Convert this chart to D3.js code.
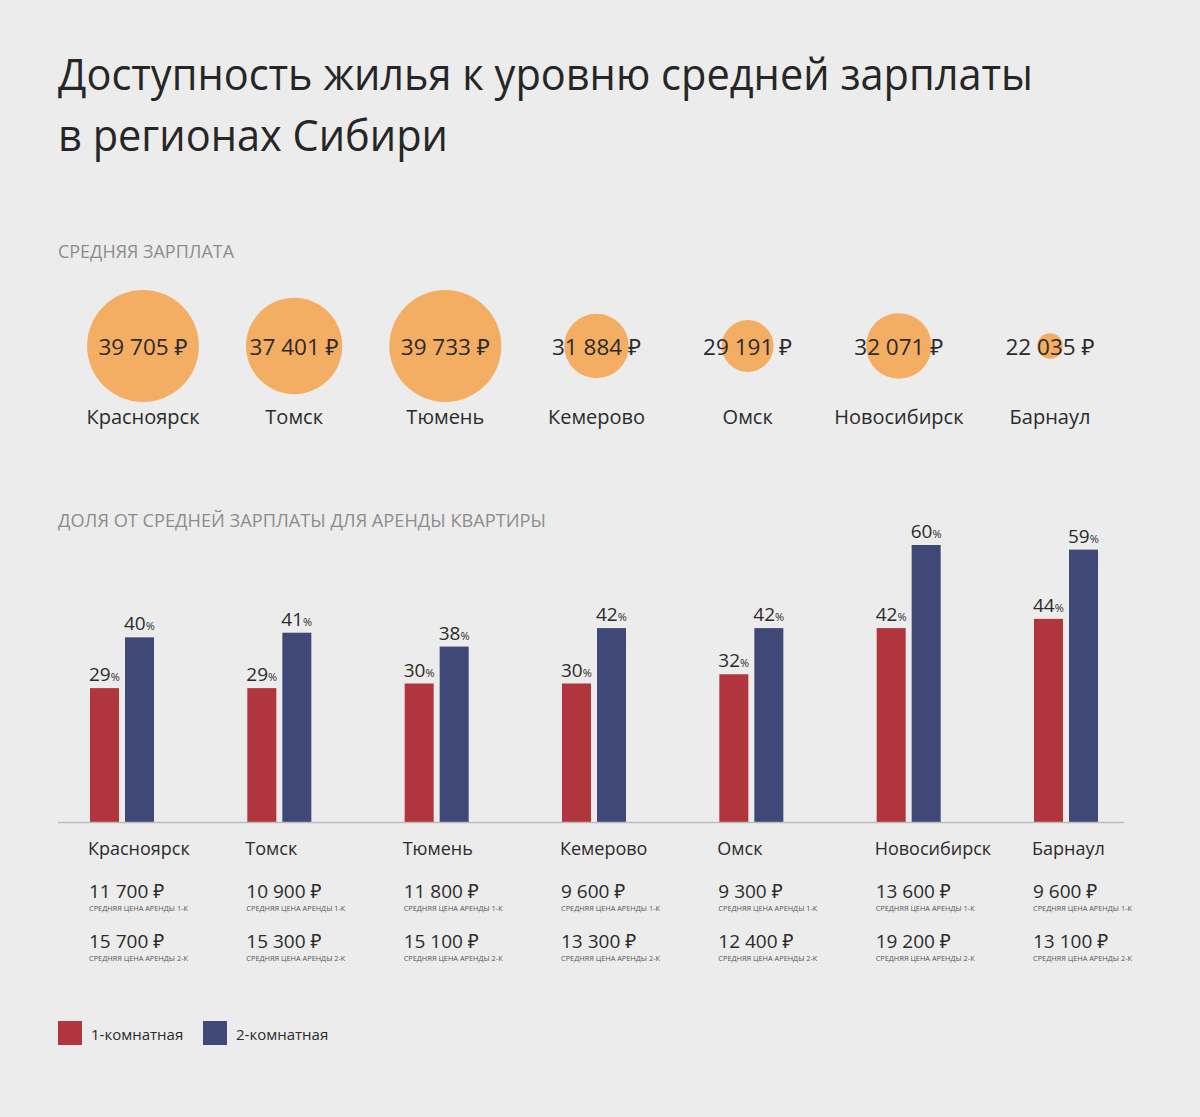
<!DOCTYPE html>
<html>
<head>
<meta charset="utf-8">
<script src="https://cdn.jsdelivr.net/npm/d3@7"></script>
<style>
  html, body { margin: 0; padding: 0; background: #ececec; }
  svg { display: block; }
  text { font-family: "Open Sans", "Noto Sans", "DejaVu Sans", sans-serif; }
</style>
</head>
<body>
<script>
// ---------- DATA ----------
const titleLines = ["Доступность жилья к уровню средней зарплаты", "в регионах Сибири"];
const salaryHeader = "СРЕДНЯЯ ЗАРПЛАТА";
const shareHeader = "ДОЛЯ ОТ СРЕДНЕЙ ЗАРПЛАТЫ ДЛЯ АРЕНДЫ КВАРТИРЫ";
const cities = ["Красноярск", "Томск", "Тюмень", "Кемерово", "Омск", "Новосибирск", "Барнаул"];
const salary = [39705, 37401, 39733, 31884, 29191, 32071, 22035];
const share1 = [29, 29, 30, 30, 32, 42, 44];   // 1-комнатная, %
const share2 = [40, 41, 38, 42, 42, 60, 59];   // 2-комнатная, %
const rent1 = [11700, 10900, 11800, 9600, 9300, 13600, 9600];
const rent2 = [15700, 15300, 15100, 13300, 12400, 19200, 13100];
const rentLabel1 = "СРЕДНЯЯ ЦЕНА АРЕНДЫ 1-К";
const rentLabel2 = "СРЕДНЯЯ ЦЕНА АРЕНДЫ 2-К";
const seriesNames = ["1-комнатная", "2-комнатная"];
const seriesKeys = ["k1", "k2"];

// ---------- SETUP ----------
const W = 1200, H = 1117;
const colors = { k1: "#b0353c", k2: "#3f4876", bubble: "#f4ae63", text: "#2b2b2b", grey: "#8c8c8c", axis: "#bdbdbd" };

const locale = d3.formatLocale({ decimal: ",", thousands: "\u00a0", grouping: [3], currency: ["", "\u00a0₽"] });
const rub = locale.format("$,.0f");

const svg = d3.select("body").append("svg").attr("width", W).attr("height", H);
svg.append("rect").attr("width", W).attr("height", H).attr("fill", "#ececec");

// Title
svg.selectAll("text.title").data(titleLines).join("text")
  .attr("class", "title")
  .attr("x", 58)
  .attr("y", (d, i) => 90 + i * 61)
  .attr("font-size", 44)
  .attr("fill", "#262626")
  .text(d => d)
  .each(function(d, i) {
    const target = i === 0 ? 975 : 390;
    d3.select(this).attr("textLength", target).attr("lengthAdjust", "spacingAndGlyphs");
  });

// Section headers
svg.append("text").attr("x", 58).attr("y", 258).attr("font-size", 18).attr("fill", colors.grey)
  .attr("textLength", 176).attr("lengthAdjust", "spacingAndGlyphs").text(salaryHeader);
svg.append("text").attr("x", 58).attr("y", 527).attr("font-size", 18).attr("fill", colors.grey)
  .attr("textLength", 488).attr("lengthAdjust", "spacingAndGlyphs").text(shareHeader);

// ---------- BUBBLES ----------
const bx = d3.scalePoint().domain(cities).range([143, 1050]);
const r = d3.scalePow().exponent(2.5).domain([0, d3.max(salary)]).range([0, 56]);
const bubbleY = 346;
const bubbles = svg.append("g").selectAll("g").data(cities).join("g")
  .attr("transform", d => `translate(${bx(d)},${bubbleY})`);
bubbles.append("circle").attr("r", (d, i) => r(salary[i])).attr("fill", colors.bubble);
bubbles.append("text").attr("text-anchor", "middle").attr("y", 9).attr("font-size", 22.5)
  .attr("fill", colors.text).text((d, i) => rub(salary[i]));
bubbles.append("text").attr("text-anchor", "middle").attr("y", 78).attr("font-size", 20)
  .attr("fill", colors.text).text(d => d);

// ---------- BARS ----------
const gx = d3.scalePoint().domain(cities).range([90, 1034]);
const inner = d3.scaleBand().domain(seriesKeys).range([0, 64]).paddingInner(0.1714).paddingOuter(0);
const y = d3.scaleLinear().domain([0, 60]).range([822, 545]);
const shares = { k1: share1, k2: share2 };

const groups = svg.append("g").selectAll("g").data(cities).join("g")
  .attr("transform", d => `translate(${gx(d)},0)`);

groups.each(function(city, ci) {
  const g = d3.select(this);
  seriesKeys.forEach(k => {
    const v = shares[k][ci];
    g.append("rect")
      .attr("x", inner(k)).attr("width", inner.bandwidth())
      .attr("y", y(v)).attr("height", y(0) - y(v))
      .attr("fill", colors[k]);
    const t = g.append("text").attr("x", inner(k) - 1).attr("y", y(v) - 7)
      .attr("font-size", 19).attr("fill", colors.text);
    t.append("tspan").text(v);
    t.append("tspan").attr("font-size", 11).text("%");
  });
});

// Axis baseline
svg.append("line").attr("x1", 58).attr("x2", 1124).attr("y1", y(0) + 0.5).attr("y2", y(0) + 0.5)
  .attr("stroke", colors.axis).attr("stroke-width", 1.5);

// Labels below bars
groups.append("text").attr("x", -2).attr("y", 855).attr("font-size", 18).attr("fill", colors.text).text(d => d);
groups.append("text").attr("x", -1).attr("y", 898).attr("font-size", 19).attr("fill", colors.text).text((d, i) => rub(rent1[i]));
groups.append("text").attr("x", -1).attr("y", 911).attr("font-size", 7.2).attr("fill", "#555")
  .attr("textLength", 99).attr("lengthAdjust", "spacingAndGlyphs").text(rentLabel1);
groups.append("text").attr("x", -1).attr("y", 948).attr("font-size", 19).attr("fill", colors.text).text((d, i) => rub(rent2[i]));
groups.append("text").attr("x", -1).attr("y", 961).attr("font-size", 7.2).attr("fill", "#555")
  .attr("textLength", 99).attr("lengthAdjust", "spacingAndGlyphs").text(rentLabel2);

// ---------- LEGEND ----------
const legend = svg.append("g").selectAll("g").data(seriesKeys).join("g")
  .attr("transform", (d, i) => `translate(${58 + i * 145},1021)`);
legend.append("rect").attr("width", 24).attr("height", 24).attr("fill", d => colors[d]);
legend.append("text").attr("x", 33).attr("y", 19).attr("font-size", 15).attr("fill", colors.text)
  .text((d, i) => seriesNames[i]);
</script>
</body>
</html>
